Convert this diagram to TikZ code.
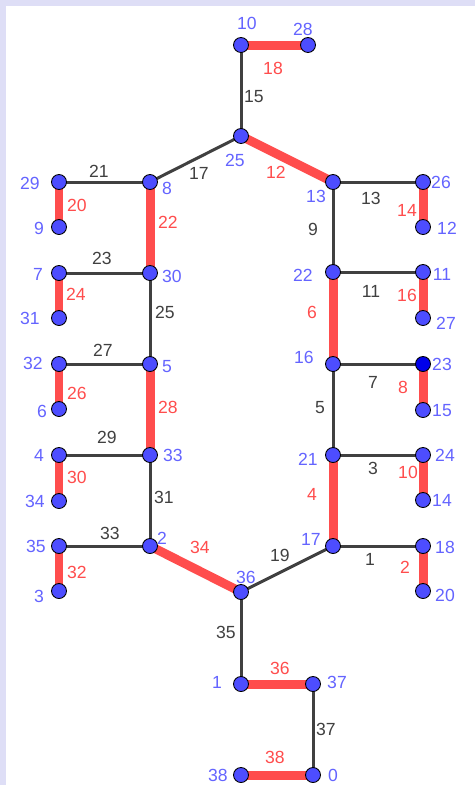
\documentclass[tikz,border=0pt]{standalone}
\usepackage{fontspec}
\setmainfont{Liberation Sans}
\definecolor{bluPunto}{RGB}{77,77,255}
\definecolor{bluScuro}{RGB}{0,0,235}
\definecolor{bluTesto}{RGB}{100,100,255}
\definecolor{rossoLato}{RGB}{255,77,77}
\definecolor{grigioLato}{RGB}{64,64,64}
\definecolor{lavanda}{RGB}{222,222,246}
\tikzset{
  punto/.style={circle, fill=bluPunto, draw=black, line width=0.5pt, inner sep=0pt, minimum size=0.3cm},
  nome/.style={text=bluTesto, inner sep=0pt, font=\fontsize{10}{12}\selectfont},
  lato/.style={grigioLato, line width=0.06cm},
  latorosso/.style={rossoLato, line width=0.18cm},
  pesonero/.style={text=grigioLato, inner sep=0pt, font=\fontsize{10}{12}\selectfont},
  pesorosso/.style={text=rossoLato, inner sep=0pt, font=\fontsize{10}{12}\selectfont}
}
\begin{document}
\begin{tikzpicture}[x=0.02cm, y=-0.02cm]
    % sfondo
    \useasboundingbox (0,0) rectangle (475,785);
    \fill[lavanda] (0,0) rectangle (475,785);
    \fill[white] (6,6) rectangle (475,785);

    % vertici
    \foreach \v/\x/\y in {10/241/45, 28/308/45, 25/241/136,
        29/59/182, 8/150/182, 13/333/182, 26/423/182,
        9/59/227, 12/423/227,
        7/59/273, 30/150/273, 22/333/272, 11/423/272,
        31/59/318, 27/423/318,
        32/59/364, 5/150/364, 16/333/364, 23/423/364,
        6/59/409, 15/423/410,
        4/59/455, 33/150/455, 21/333/455, 24/423/455,
        34/59/501, 14/423/500,
        35/59/546, 2/150/546, 17/333/546, 18/423/546,
        3/59/591, 20/423/591,
        36/241/592, 1/241/684, 37/313/684, 38/241/775, 0/313/775}
        \coordinate (p\v) at (\x,\y);

    % lati grigi
    \foreach \a/\b/\w/\x/\y in {10/25/15/254/97, 25/8/17/199/173, 29/8/21/99/171,
        13/26/13/371/198, 13/22/9/313/229, 7/30/23/102/258, 22/11/11/371/291,
        30/5/25/165/312, 32/5/27/103/350, 16/23/7/373/382, 16/21/5/320/408,
        4/33/29/107/437, 21/24/3/373/468, 33/2/31/164/497, 35/2/33/110/533,
        17/18/1/370/559, 36/17/19/280/555, 36/1/35/226/632, 37/0/37/326/729}
    {
        \draw[lato] (p\a) -- (p\b);
        \node[pesonero] (w\w) at (\x,\y) {\w};
    }

    % lati rossi
    \foreach \a/\b/\w/\x/\y in {10/28/18/273/68, 25/13/12/276/172, 29/9/20/77/205,
        26/12/14/407/210, 8/30/22/168/222, 7/31/24/76/294, 11/27/16/407/295,
        22/16/6/312/312, 32/6/26/77/393, 23/15/8/403/387, 5/33/28/168/407,
        21/17/4/312/494, 4/34/30/77/477, 24/14/10/408/472, 35/3/32/77/572,
        18/20/2/405/567, 2/36/34/200/547, 1/37/36/280/668, 38/0/38/275/757}
    {
        \draw[latorosso] (p\a) -- (p\b);
        \node[pesorosso] (w\w) at (\x,\y) {\w};
    }

    % punti
    \foreach \v in {10,28,25,29,8,13,26,9,12,7,30,22,11,31,27,32,5,16,
        6,15,4,33,21,24,34,14,35,2,17,18,3,20,36,1,37,38,0}
        \node[punto] (v\v) at (p\v) {};
    \node[punto, fill=bluScuro] (v23) at (p23) {};

    % nomi dei punti
    \foreach \v/\x/\y in {10/247/23, 28/303/29, 25/235/160, 29/30/183, 8/167/188,
        13/316/196, 26/441/182, 9/39/228, 12/447/228, 7/38/274, 30/172/276,
        22/303/275, 11/442/274, 31/30/318, 27/446/323, 32/33/363, 5/167/367,
        16/304/357, 23/442/364, 6/42/411, 15/442/411, 4/39/455, 33/173/455,
        21/308/459, 24/445/455, 34/35/501, 14/442/500, 35/36/546, 2/162/538,
        17/311/539, 18/445/547, 3/39/596, 20/445/595, 36/246/577, 1/217/682,
        37/337/682, 38/218/775, 0/333/775}
        \node[nome] (n\v) at (\x,\y) {\v};
\end{tikzpicture}
\end{document}
